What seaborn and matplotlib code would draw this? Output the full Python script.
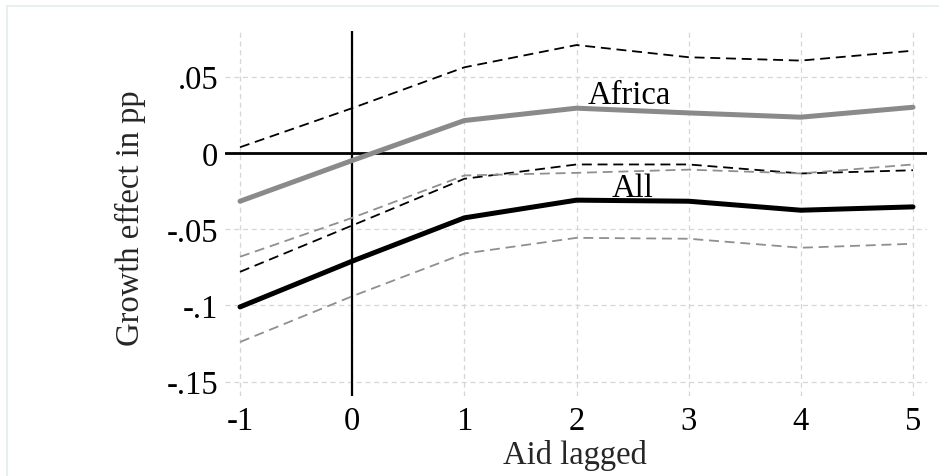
import matplotlib
matplotlib.use("Agg")
import numpy as np
import pandas as pd
import seaborn as sns
import matplotlib.pyplot as plt
from matplotlib.lines import Line2D

# ---- data ----
lags = [-1, 0, 1, 2, 3, 4, 5]
africa = [-0.0317, -0.0050, 0.0212, 0.0293, 0.0262, 0.0234, 0.0299]
africa_hi = [0.0037, 0.0293, 0.0561, 0.0707, 0.0627, 0.0605, 0.0670]
africa_lo = [-0.0780, -0.0476, -0.0170, -0.0076, -0.0076, -0.0135, -0.0114]
all_eff = [-0.1010, -0.0710, -0.0426, -0.0310, -0.0317, -0.0376, -0.0354]
all_hi = [-0.0681, -0.0426, -0.0148, -0.0131, -0.0110, -0.0135, -0.0076]
all_lo = [-0.1240, -0.0940, -0.0660, -0.0557, -0.0563, -0.0622, -0.0596]

yticks = [0.05, 0, -0.05, -0.1, -0.15]
ytick_labels = [".05", "0", "-.05", "-.1", "-.15"]
xticks = [-1, 0, 1, 2, 3, 4, 5]
xtick_labels = ["-1", "0", "1", "2", "3", "4", "5"]

sns.set_theme(style="white")
plt.rcParams["font.family"] = ["Liberation Serif", "DejaVu Serif"]

W, H = 939, 477
fig = plt.figure(figsize=(W / 100, H / 100), dpi=100)
ax = fig.add_axes([225 / W, 80 / H, 702 / W, 365 / H])

df = pd.DataFrame({
    "lag": lags,
    "africa": africa, "africa_hi": africa_hi, "africa_lo": africa_lo,
    "all": all_eff, "all_hi": all_hi, "all_lo": all_lo,
})

ax.grid(True, color="#d6d6d6", lw=0.9, linestyle=(0, (4, 3)))
ax.set_axisbelow(True)
ax.axhline(0, color="black", lw=2.0, zorder=2)
ax.axvline(0, color="black", lw=1.6, zorder=2)

dash = (0, (5.5, 3.2))
sns.lineplot(data=df, x="lag", y="africa_hi", ax=ax, color="black", lw=1.3, linestyle=dash, zorder=3)
sns.lineplot(data=df, x="lag", y="africa_lo", ax=ax, color="black", lw=1.3, linestyle=dash, zorder=3)
sns.lineplot(data=df, x="lag", y="all_hi", ax=ax, color="#8f8f8f", lw=1.3, linestyle=dash, zorder=3)
sns.lineplot(data=df, x="lag", y="all_lo", ax=ax, color="#8f8f8f", lw=1.3, linestyle=dash, zorder=3)
sns.lineplot(data=df, x="lag", y="africa", ax=ax, color="#8a8a8a", lw=3.6, zorder=4)
sns.lineplot(data=df, x="lag", y="all", ax=ax, color="black", lw=3.6, zorder=4)

ax.text(2.47, 0.0327, "Africa", ha="center", va="baseline", fontsize=23.5, color="black")
ax.text(2.50, -0.0283, "All", ha="center", va="baseline", fontsize=23.5, color="black")

ax.set_xlim(-1.134, 5.125)
ax.set_ylim(-0.1594, 0.0799)
ax.set_xticks(xticks, labels=xtick_labels)
ax.set_yticks(yticks, labels=ytick_labels)
ax.tick_params(axis="both", length=0, labelsize=23.5, colors="black")
ax.tick_params(axis="y", pad=5)
ax.tick_params(axis="x", pad=7)
for s in ax.spines.values():
    s.set_visible(False)

ax.set_xlabel("Aid lagged", fontsize=23.5, va="baseline")
ax.xaxis.set_label_coords(0.4986, -0.184)
ax.set_ylabel("Growth effect in pp", fontsize=23.5, va="center")
ax.yaxis.set_label_coords(-0.1353, 0.49)

# faint frame around the figure (top and left edges)
fig.add_artist(Line2D([7 / W, 1], [1 - 7 / H, 1 - 7 / H], transform=fig.transFigure, color="#e4ecec", lw=1.2))
fig.add_artist(Line2D([7 / W, 7 / W], [0, 1 - 7 / H], transform=fig.transFigure, color="#e4ecec", lw=1.2))

fig.savefig("out.png", dpi=100, facecolor="white")
